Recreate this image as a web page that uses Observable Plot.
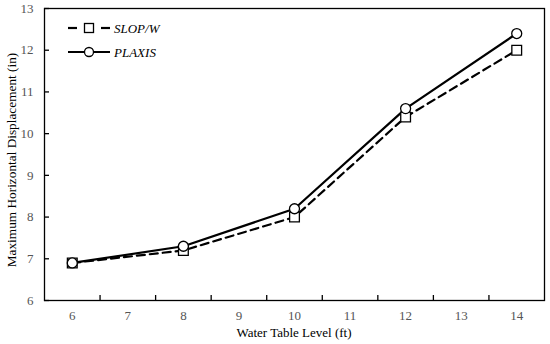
<!DOCTYPE html>
<html><head><meta charset="utf-8">
<script src="https://cdn.jsdelivr.net/npm/d3@7"></script>
<script src="https://cdn.jsdelivr.net/npm/@observablehq/plot@0.6"></script>
<style>body{margin:0;background:#fff}</style>
</head><body><div id="chart"></div>
<script>
const waterLevel = [6, 8, 10, 12, 14];
const slopw = [6.9, 7.2, 8.0, 10.4, 12.0];
const plaxis = [6.9, 7.3, 8.2, 10.6, 12.4];
const xTickLabels = [6, 7, 8, 9, 10, 11, 12, 13, 14];
const xTickMarks = [6.5, 7.5, 8.5, 9.5, 10.5, 11.5, 12.5, 13.5];
const yTicks = [6, 7, 8, 9, 10, 11, 12, 13];
const seriesNames = ["SLOP/W", "PLAXIS"];

const sData = waterLevel.map((x, i) => ({x, y: slopw[i]}));
const pData = waterLevel.map((x, i) => ({x, y: plaxis[i]}));
const font = "'Liberation Serif', 'Times New Roman', serif";

const chart = Plot.plot({
  width: 550, height: 344,
  marginLeft: 44, marginRight: 6, marginTop: 8, marginBottom: 44,
  style: {fontFamily: font, fontSize: "13px", background: "#fff"},
  x: {domain: [5.5, 14.5]},
  y: {domain: [6, 13]},
  marks: [
    Plot.frame({stroke: "#000", strokeWidth: 1.3}),
    Plot.axisX({ticks: xTickLabels, tickSize: 0, tickPadding: 10, fill: "#555", fontSize: 13, label: null}),
    Plot.axisX({ticks: xTickMarks, tickSize: -5, tickFormat: () => "", label: null, strokeWidth: 1.3}),
    Plot.axisY({ticks: yTicks, tickSize: -5, tickPadding: 16, tickFormat: d3.format("d"), fill: "#555", fontSize: 13, label: null, strokeWidth: 1.3}),
    Plot.line(sData, {x: "x", y: "y", stroke: "#000", strokeWidth: 2.2, strokeDasharray: "8,5"}),
    Plot.line(pData, {x: "x", y: "y", stroke: "#000", strokeWidth: 2.2}),
    Plot.dot(sData, {x: "x", y: "y", symbol: "square", r: 5.5, fill: "#fff", stroke: "#000", strokeWidth: 1.3}),
    Plot.dot(pData, {x: "x", y: "y", symbol: "circle", r: 5, fill: "#fff", stroke: "#000", strokeWidth: 1.3})
  ]
});
document.getElementById("chart").append(chart);

// legend graphics
const svg = d3.select(chart);
const lg = svg.append("g");
const rows = [{y: 28, dash: true, sym: "square", name: seriesNames[0]}, {y: 52, dash: false, sym: "circle", name: seriesNames[1]}];
rows.forEach(r => {
  const segs = r.dash ? [[68, 77], [101, 110]] : [[68, 110]];
  segs.forEach(([a, b]) => lg.append("line").attr("x1", a).attr("x2", b).attr("y1", r.y).attr("y2", r.y)
    .attr("stroke", "#000").attr("stroke-width", 2.2));
  if (r.sym === "square") lg.append("rect").attr("x", 84.5).attr("y", r.y - 4.5).attr("width", 9).attr("height", 9)
    .attr("fill", "#fff").attr("stroke", "#000").attr("stroke-width", 1.3);
  else lg.append("circle").attr("cx", 89).attr("cy", r.y).attr("r", 4.5)
    .attr("fill", "#fff").attr("stroke", "#000").attr("stroke-width", 1.3);
  lg.append("text").attr("x", 114).attr("y", r.y + 4.5).attr("text-anchor", "start")
    .attr("font-family", font).attr("font-size", 13)
    .attr("font-style", "italic").attr("fill", "#000").text(r.name);
});
svg.append("text").attr("x", 294).attr("y", 337).attr("text-anchor", "middle")
  .attr("font-family", font).attr("font-size", 13).attr("fill", "#000").text("Water Table Level (ft)");
svg.append("text").attr("transform", "translate(16,160) rotate(-90)").attr("text-anchor", "middle")
  .attr("font-family", font).attr("font-size", 13.3).attr("fill", "#000").text("Maximum Horizontal Displacement (in)");
</script></body></html>
